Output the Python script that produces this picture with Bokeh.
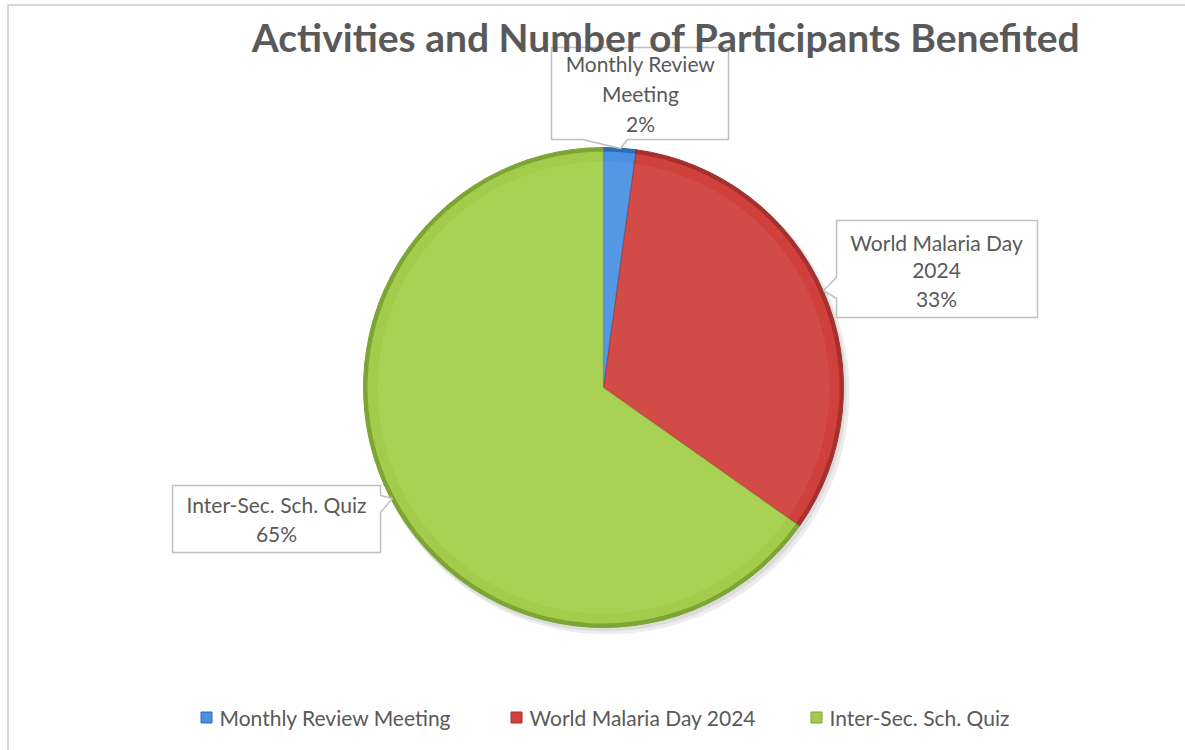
import numpy as np
from bokeh.plotting import figure
from bokeh.models import Range1d, ColumnDataSource
from bokeh.core.properties import value
from bokeh.embed import file_html
from bokeh.resources import INLINE

# ---- data ----
categories = ["Monthly Review Meeting", "World Malaria Day 2024", "Inter-Sec. Sch. Quiz"]
participants = [24, 360, 720]
label_lines = [["Monthly Review", "Meeting"], ["World Malaria Day", "2024"], ["Inter-Sec. Sch. Quiz"]]
title = "Activities and Number of Participants Benefited"

main_colors = ["#4A8FE0", "#D0413D", "#A3CC4C"]
edge_colors = ["#2E6CB5", "#A5302D", "#7DA534"]
light_colors = ["#5C9DE8", "#D6524D", "#AED65B"]

W, H = 1185, 750
FONT = "Lato"
TXT = "#595959"

p = figure(width=W, height=H, output_backend="svg", toolbar_location=None,
           x_range=Range1d(0, W), y_range=Range1d(H, 0), min_border=0)
p.axis.visible = False
p.grid.visible = False
p.outline_line_color = None
p.background_fill_color = "white"
p.border_fill_color = "white"

# chart border
p.line(x=[7.5, 7.5, W + 5], y=[H + 5, 4.5, 4.5], line_color="#D9D9D9", line_width=2)

# pie geometry (angles in screen convention: counter-clockwise from 3 o'clock)
cx, cy, R = 603, 387, 240
vals = np.array(participants, dtype=float)
frac = vals / vals.sum()
cum = np.concatenate([[0], np.cumsum(frac)])
start = np.pi / 2 - 2 * np.pi * cum[:-1]
end = np.pi / 2 - 2 * np.pi * cum[1:]

src = ColumnDataSource(dict(start=start, end=end, main=main_colors, edge=edge_colors,
                            light=light_colors))

# shadow
p.circle(x=cx + 4, y=cy + 5, radius=R + 2, fill_color="#000000", fill_alpha=0.07, line_color=None)
p.circle(x=cx + 2, y=cy + 3, radius=R + 1, fill_color="#000000", fill_alpha=0.07, line_color=None)

p.wedge(x=cx, y=cy, radius=R, start_angle="start", end_angle="end", source=src,
        fill_color="edge", line_color="edge", line_width=1, direction="clock")
p.wedge(x=cx, y=cy, radius=R - 4, start_angle="start", end_angle="end", source=src,
        fill_color="main", line_color=None, direction="clock")
p.wedge(x=cx, y=cy, radius=R - 14, start_angle="start", end_angle="end", source=src,
        fill_color="light", fill_alpha=0.6, line_color=None, direction="clock")
# slice separators (y axis inverted -> minus sin)
for a in start:
    p.line(x=[cx, cx + R * np.cos(a)], y=[cy, cy - R * np.sin(a)], line_color="#000000",
           line_alpha=0.15, line_width=1.5)

# ---- data label callouts ----
pct = [f"{int(round(f * 100))}%" for f in frac]
boxes = [
    dict(xs=[551, 728, 728, 627, 620, 582, 551], ys=[47, 47, 139, 139, 148, 139, 139],
         tx=640, ty=[63, 93, 123]),
    dict(xs=[836, 1037, 1037, 836, 836, 823, 836], ys=[220, 220, 317, 317, 298, 290, 277],
         tx=936, ty=[242, 270, 298]),
    dict(xs=[172, 380, 380, 392, 380, 380, 172], ys=[485, 485, 495, 498, 512, 552, 552],
         tx=276, ty=[504, 533]),
]
for i, b in enumerate(boxes):
    p.patch(x=b["xs"], y=b["ys"], fill_color="white", line_color="#BFBFBF", line_width=1.5)
    lines = label_lines[i] + [pct[i]]
    p.text(x=[b["tx"]] * len(lines), y=b["ty"], text=lines, text_align="center",
           text_baseline="middle", text_font=value(FONT), text_font_size="21px",
           text_color=TXT)

# ---- title ----
p.text(x=[666], y=[36], text=[title], text_align="center", text_baseline="middle",
       text_font=value(FONT), text_font_size="39px", text_font_style="bold", text_color=TXT)

# ---- legend ----
leg_x = [206, 516, 816]
leg_y = 717
p.rect(x=leg_x, y=[leg_y] * 3, width=11, height=11, fill_color=main_colors,
       line_color=edge_colors, line_width=1)
p.text(x=[x + 13 for x in leg_x], y=[leg_y] * 3, text=categories, text_align="left",
       text_baseline="middle", text_font=value(FONT), text_font_size="21px", text_color=TXT)

open("out.html", "w").write(file_html(p, INLINE))
